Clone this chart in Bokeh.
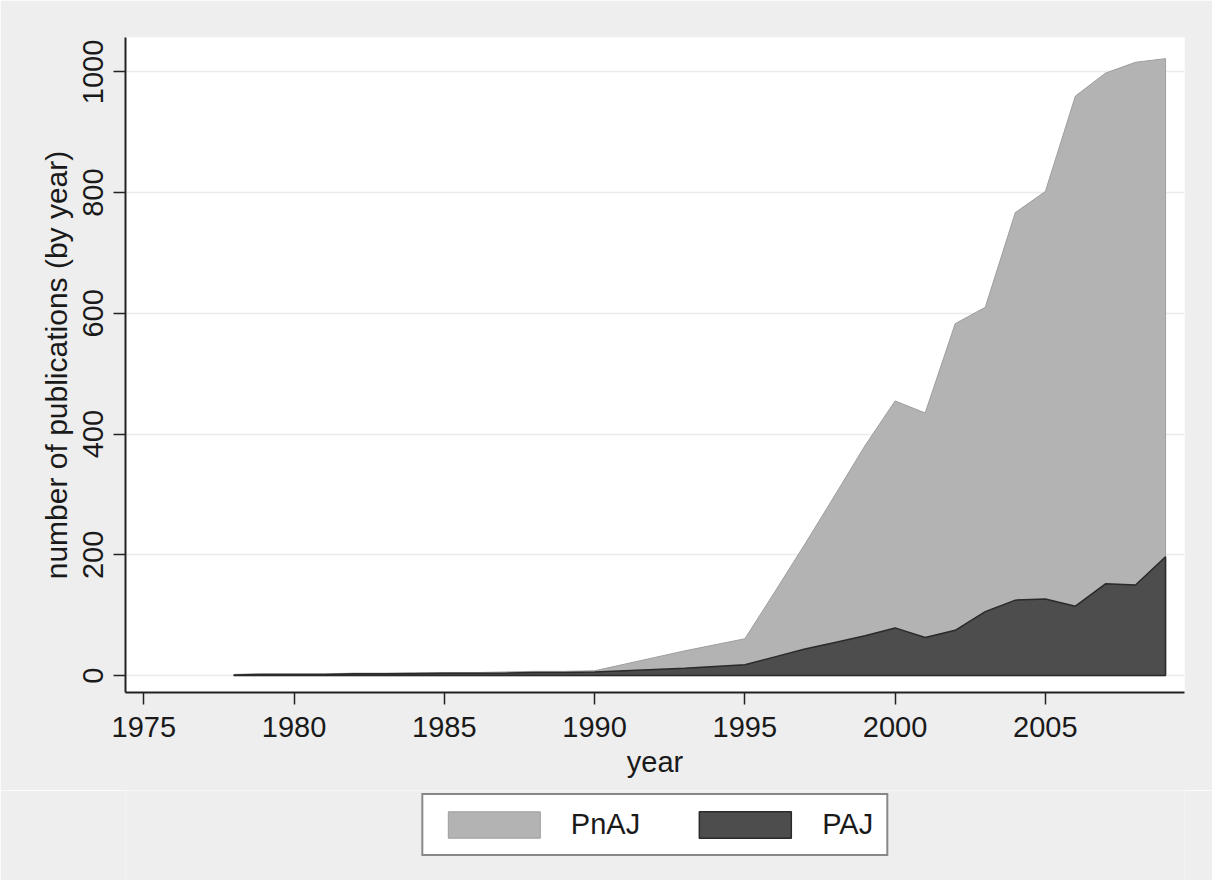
from bokeh.plotting import figure
from bokeh.layouts import column
from bokeh.models import Range1d, FixedTicker, Legend, LegendItem
from bokeh.embed import file_html
from bokeh.resources import INLINE

# ---- data ----
years = [1978, 1979, 1980, 1981, 1982, 1983, 1984, 1985, 1986, 1987, 1988,
         1989, 1990, 1991, 1992, 1993, 1994, 1995, 1996, 1997, 1998, 1999,
         2000, 2001, 2002, 2003, 2004, 2005, 2006, 2007, 2008, 2009]
# upper boundary of the light area (PnAJ)
pnaj = [2, 3, 3, 3, 4, 4, 5, 5, 5, 6, 7,
        7, 8, 19, 30, 41, 51, 61, 139, 218, 299, 381,
        455, 435, 583, 610, 767, 802, 960, 998, 1016, 1022]
# upper boundary of the dark area (PAJ)
paj = [1, 2, 2, 2, 3, 3, 3, 4, 4, 4, 5,
       5, 6, 8, 10, 12, 15, 18, 31, 44, 55, 66,
       79, 63, 75, 106, 125, 127, 115, 152, 150, 197]

x_ticks = [1975, 1980, 1985, 1990, 1995, 2000, 2005]
y_ticks = [0, 200, 400, 600, 800, 1000]
x_title = "year"
y_title = "number of publications (by year)"
series_labels = ["PnAJ", "PAJ"]

FONT = "Liberation Sans"
TXT = "#1a1a1a"
BG = "#eeeeee"
LIGHT = dict(fill_color="#b3b3b3", line_color="#9e9e9e", line_width=1)
DARK = dict(fill_color="#4d4d4d", line_color="#2a2a2a", line_width=1.5)

p = figure(frame_width=1059, frame_height=655, output_backend="svg",
           toolbar_location=None,
           x_range=Range1d(1974.39, 2009.63), y_range=Range1d(-28, 1057),
           min_border_left=125, min_border_right=28, min_border_top=37,
           min_border_bottom=98)
p.background_fill_color = "white"
p.border_fill_color = BG
p.outline_line_color = None

def poly(vals):
    xs = list(years) + list(reversed(years))
    ys = list(vals) + [0] * len(years)
    return xs, ys

lx, ly = poly(pnaj)
dx, dy = poly(paj)
p.patch(lx, ly, **LIGHT)
p.patch(dx, dy, **DARK)

# axes
p.xaxis.ticker = FixedTicker(ticks=x_ticks)
p.yaxis.ticker = FixedTicker(ticks=y_ticks)
p.xaxis.axis_label = x_title
p.yaxis.axis_label = y_title
for ax in (p.xaxis[0], p.yaxis[0]):
    ax.axis_line_color = "#222222"
    ax.axis_line_width = 2
    ax.major_tick_line_color = "#222222"
    ax.major_tick_line_width = 1.5
    ax.major_tick_out = 12
    ax.major_tick_in = 0
    ax.minor_tick_out = 0
    ax.minor_tick_in = 0
    ax.major_label_text_font = FONT
    ax.major_label_text_font_size = "29px"
    ax.major_label_text_color = TXT
    ax.axis_label_text_font = FONT
    ax.axis_label_text_font_size = "29px"
    ax.axis_label_text_font_style = "normal"
    ax.axis_label_text_color = TXT
p.yaxis.axis_label_text_font_size = "30px"
p.yaxis.major_label_orientation = "vertical"
p.xaxis.major_label_standoff = 12
p.yaxis.major_label_standoff = 10
p.xaxis.axis_label_standoff = 6
p.yaxis.axis_label_standoff = 8

p.xgrid.grid_line_color = None
p.ygrid.grid_line_color = "#ebebeb"
p.ygrid.grid_line_width = 1.5

# legend strip below the chart (same series drawn off-range, only for the key)
q = figure(width=1212, height=90, output_backend="svg", toolbar_location=None,
           x_range=Range1d(0, 1), y_range=Range1d(0, 1),
           x_axis_type=None, y_axis_type=None, min_border=0)
q.background_fill_color = BG
q.border_fill_color = BG
q.outline_line_color = None
q.grid.grid_line_color = None
g_light = q.patch(lx, ly, **LIGHT)
g_dark = q.patch(dx, dy, **DARK)

legend = Legend(items=[LegendItem(label=series_labels[0], renderers=[g_light]),
                       LegendItem(label=series_labels[1], renderers=[g_dark])],
                location="top_center", orientation="horizontal")
legend.border_line_color = "#111111"
legend.border_line_width = 2
legend.background_fill_color = "white"
legend.background_fill_alpha = 1
legend.glyph_width = 115
legend.glyph_height = 33
legend.label_text_font = FONT
legend.label_text_font_size = "29px"
legend.label_text_color = TXT
legend.label_standoff = 20
legend.spacing = 47
legend.padding = 13
legend.margin = 3
q.add_layout(legend, "center")

layout = column(p, q, spacing=0)
open("out.html", "w").write(file_html(layout, INLINE))
